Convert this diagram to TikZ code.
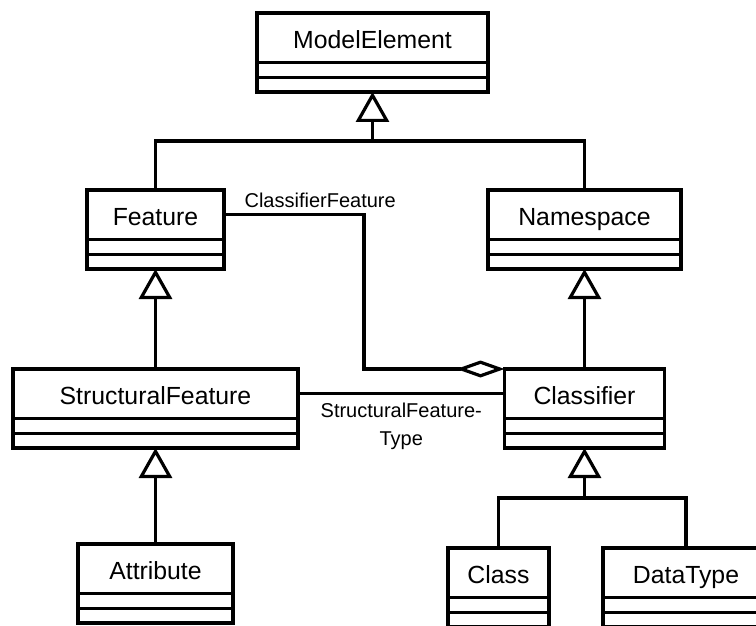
\documentclass[tikz,border=0pt]{standalone}
\usepackage{fontspec}
\setmainfont{Liberation Sans}
\usetikzlibrary{arrows.meta, calc}
\tikzset{
    uml/.style = {draw, outer sep=0pt, inner sep=0pt, anchor=north, minimum height=24.75pt,
        text height=10.9pt, text depth=0pt, font=\fontsize{12.4}{14}\selectfont},
    umlpart/.style = {draw, outer sep=0pt, inner sep=0pt, anchor=north},
    gen/.style = {-{Triangle[open, length=15pt, width=16.5pt]}},
    aggr/.style = {-{Diamond[open, length=24pt, width=8.5pt]}},
    lbl/.style = {font=\fontsize{10}{14}\selectfont, inner sep=0pt},
}
% name, position, width, text
\newcommand\umlclass[4]{%
    \node[uml, minimum width=#3] (#1) at (#2) {#4};
    \node[umlpart, minimum width=#3, minimum height=7.5pt] (#1-a) at (#1.south) {};
    \node[umlpart, minimum width=#3, minimum height=7.25pt] (#1-b) at (#1-a.south) {};
}

\begin{document}
\begin{tikzpicture}[x=0.5pt, y=-0.5pt, line width=1.6pt]
\useasboundingbox (0,0) rectangle (756,626);
\clip (0,0) rectangle (756,626);

\umlclass{me}{372.5,13}{115.5pt}{ModelElement}
\umlclass{feat}{155.5,190}{68.5pt}{Feature}
\umlclass{ns}{584.5,190}{96.5pt}{Namespace}
\umlclass{sf}{155.5,369}{142.5pt}{StructuralFeature}
\umlclass{cl}{584.5,369}{80pt}{Classifier}
\umlclass{attr}{155.5,544}{77.5pt}{Attribute}
\umlclass{cls}{498.5,548}{50.5pt}{Class}
\umlclass{dt}{686,548}{83pt}{DataType}

\coordinate (j1) at ($(me-b.south)+(0,49)$);
\draw[gen] (feat.north) |- (j1) -- (me-b.south);
\draw (ns.north) |- (j1);

\draw[gen] (sf.north) -- (feat-b.south);
\draw[gen] (cl.north) -- (ns-b.south);
\draw[gen] (attr.north) -- (sf-b.south);

\coordinate (j2) at ($(cl-b.south)+(0,50)$);
\draw[gen] (cls.north) |- (j2) -- (cl-b.south);
\draw (dt.north) |- (j2);

\draw[aggr] (feat.east) -- ++(140,0) |- (cl.north west);
\node[lbl, anchor=base west] (cflbl) at ($(feat.east)+(19,-7)$) {ClassifierFeature};

\draw (sf.east) -- node[lbl, below=4pt, align=center] (sftlbl) {StructuralFeature-\\Type} (sf.east -| cl.west);

\end{tikzpicture}
\end{document}
